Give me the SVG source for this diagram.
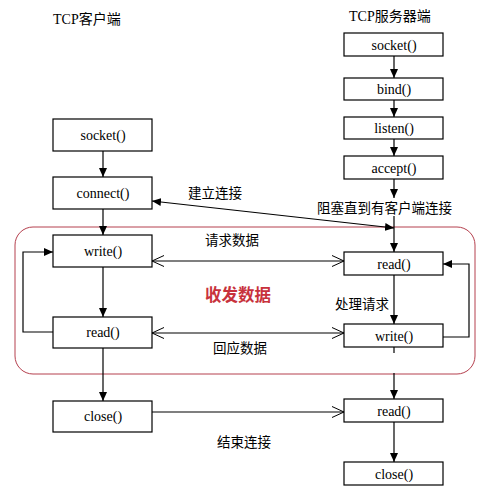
<svg xmlns="http://www.w3.org/2000/svg" width="503" height="492" viewBox="0 0 503 492">
<defs>
<marker id="fa" markerUnits="userSpaceOnUse" markerWidth="10" markerHeight="10" refX="9" refY="5" orient="auto-start-reverse" viewBox="0 0 10 10"><path d="M0,1 L9,5 L0,9 Z" fill="#000"/></marker>
<marker id="oa" markerUnits="userSpaceOnUse" markerWidth="14" markerHeight="14" refX="13" refY="7" orient="auto-start-reverse" viewBox="0 0 14 14"><path d="M1,1.5 L13,7 L1,12.5" fill="none" stroke="#000" stroke-width="1"/></marker>
</defs>
<style>
.box{fill:#fff;stroke:#000;stroke-width:1.2}
.lbl{font-family:"Liberation Serif","Noto Sans CJK SC",serif;font-size:14px;fill:#000;text-anchor:middle;dominant-baseline:central}
.cn{font-family:"Noto Sans CJK SC","Liberation Sans",sans-serif;font-size:13.5px;fill:#000;dominant-baseline:central}
.ln{fill:none;stroke:#000;stroke-width:1.2}
</style>
<rect width="503" height="492" fill="#fff"/>
<rect id="region" x="15" y="227" width="460" height="147" rx="18" ry="18" fill="none" stroke="#b5404e" stroke-width="1"/>
<text class="lbl" x="53" y="19" style="text-anchor:start">TCP客户端</text>
<text class="lbl" x="349" y="16" style="text-anchor:start">TCP服务器端</text>
<g id="c_socket"><rect class="box" x="53" y="119" width="99" height="32"/><text class="lbl" x="103" y="135">socket()</text></g>
<g id="c_connect"><rect class="box" x="53" y="177" width="99" height="32"/><text class="lbl" x="103" y="193">connect()</text></g>
<g id="c_write"><rect class="box" x="53" y="235" width="99" height="32"/><text class="lbl" x="103" y="251">write()</text></g>
<g id="c_read"><rect class="box" x="53" y="317" width="99" height="31"/><text class="lbl" x="103" y="332">read()</text></g>
<g id="c_close"><rect class="box" x="53" y="401" width="99" height="31"/><text class="lbl" x="103" y="416">close()</text></g>
<g id="s_socket"><rect class="box" x="344" y="33" width="99" height="23"/><text class="lbl" x="394" y="45">socket()</text></g>
<g id="s_bind"><rect class="box" x="344" y="78" width="99" height="22"/><text class="lbl" x="394" y="89">bind()</text></g>
<g id="s_listen"><rect class="box" x="344" y="117" width="99" height="22"/><text class="lbl" x="394" y="128">listen()</text></g>
<g id="s_accept"><rect class="box" x="344" y="156" width="99" height="23"/><text class="lbl" x="394" y="168">accept()</text></g>
<g id="s_read"><rect class="box" x="344" y="252" width="99" height="23"/><text class="lbl" x="394" y="264">read()</text></g>
<g id="s_write"><rect class="box" x="344" y="324" width="99" height="23"/><text class="lbl" x="394" y="336">write()</text></g>
<g id="s_read2"><rect class="box" x="344" y="399" width="99" height="23"/><text class="lbl" x="394" y="411">read()</text></g>
<g id="s_close"><rect class="box" x="344" y="462" width="99" height="23"/><text class="lbl" x="394" y="474">close()</text></g>
<g id="connectors">
<line class="ln" x1="103" y1="151" x2="103" y2="177" marker-end="url(#fa)"/>
<line class="ln" x1="103" y1="209" x2="103" y2="235" marker-end="url(#fa)"/>
<line class="ln" x1="103" y1="267" x2="103" y2="317" marker-end="url(#fa)"/>
<line class="ln" x1="103" y1="348" x2="103" y2="401" marker-end="url(#fa)"/>
<polyline class="ln" points="53,332 23,332 23,252 53,252" marker-end="url(#fa)"/>
<line class="ln" x1="394" y1="56" x2="394" y2="78" marker-end="url(#fa)"/>
<line class="ln" x1="394" y1="100" x2="394" y2="117" marker-end="url(#fa)"/>
<line class="ln" x1="394" y1="139" x2="394" y2="156" marker-end="url(#fa)"/>
<line class="ln" x1="394" y1="179" x2="394" y2="198" marker-end="url(#fa)"/>
<line class="ln" x1="394" y1="216" x2="394" y2="252" marker-end="url(#fa)"/>
<line class="ln" x1="394" y1="275" x2="394" y2="324" marker-end="url(#fa)"/>
<line class="ln" x1="394" y1="347" x2="394" y2="353"/>
<line class="ln" x1="394" y1="373" x2="394" y2="399" marker-end="url(#fa)"/>
<line class="ln" x1="394" y1="422" x2="394" y2="462" marker-end="url(#fa)"/>
<polyline class="ln" points="443,337 469,337 469,264 443,264" marker-end="url(#fa)"/>
<line class="ln" x1="394" y1="228" x2="152" y2="201" marker-start="url(#fa)" marker-end="url(#fa)"/>
<line class="ln" x1="152" y1="261" x2="344" y2="261" marker-start="url(#oa)" marker-end="url(#oa)"/>
<line class="ln" x1="152" y1="333" x2="344" y2="333" marker-start="url(#oa)" marker-end="url(#oa)"/>
<line class="ln" x1="152" y1="412" x2="344" y2="412" marker-end="url(#oa)"/>
</g>
<text class="cn" x="188" y="192">建立连接</text>
<text class="cn" x="317" y="207">阻塞直到有客户端连接</text>
<text class="cn" x="205" y="239">请求数据</text>
<text class="cn" x="205" y="294" style="font-size:16.5px;font-weight:bold;fill:#c8323c">收发数据</text>
<text class="cn" x="335" y="303">处理请求</text>
<text class="cn" x="213" y="347">回应数据</text>
<text class="cn" x="217" y="441">结束连接</text>
</svg>
